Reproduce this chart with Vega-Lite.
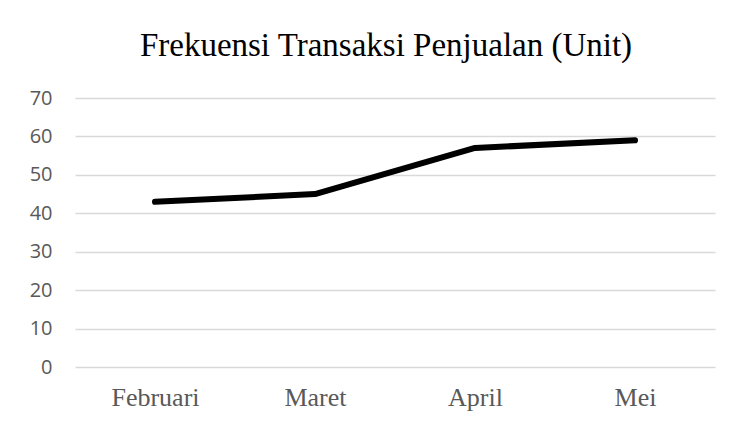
{
  "$schema": "https://vega.github.io/schema/vega-lite/v6.json",
  "width": 640,
  "height": 269,
  "autosize": {"type": "none"},
  "padding": {"left": 75, "top": 98, "right": 17, "bottom": 59},
  "background": "white",
  "config": {"view": {"stroke": null}},
  "title": {
    "text": "Frekuensi Transaksi Penjualan (Unit)",
    "font": "Liberation Serif",
    "fontSize": 33,
    "fontWeight": "normal",
    "color": "#000000",
    "anchor": "middle",
    "offset": 25,
    "dx": -9
  },
  "data": {
    "values": [
      {"bulan": "Februari", "unit": 43},
      {"bulan": "Maret", "unit": 45},
      {"bulan": "April", "unit": 57},
      {"bulan": "Mei", "unit": 59}
    ]
  },
  "mark": {"type": "line", "color": "#000000", "strokeWidth": 6, "strokeCap": "round", "strokeJoin": "round"},
  "encoding": {
    "x": {
      "field": "bulan",
      "type": "ordinal",
      "sort": null,
      "scale": {"type": "point", "padding": 0.5},
      "axis": {
        "title": null,
        "domain": false,
        "ticks": false,
        "grid": false,
        "labelAngle": 0,
        "labelFont": "Liberation Serif",
        "labelFontSize": 26,
        "labelColor": "#595959",
        "labelPadding": 17
      }
    },
    "y": {
      "field": "unit",
      "type": "quantitative",
      "scale": {"domain": [0, 70]},
      "axis": {
        "title": null,
        "values": [0, 10, 20, 30, 40, 50, 60, 70],
        "domain": false,
        "ticks": false,
        "grid": true,
        "gridColor": "#d9d9d9",
        "gridWidth": 1.3,
        "labelFont": "Open Sans",
        "labelFontSize": 20,
        "labelColor": "#595959",
        "labelPadding": 23
      }
    }
  }
}
